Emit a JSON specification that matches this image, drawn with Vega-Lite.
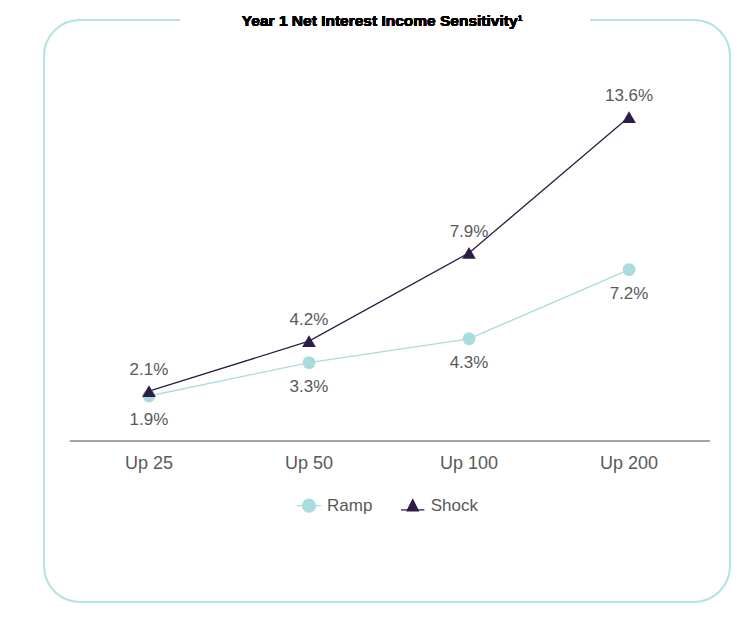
{
  "$schema": "https://vega.github.io/schema/vega-lite/v6.json",
  "width": 686,
  "height": 582,
  "autosize": {"type": "none"},
  "padding": {"left": 44, "top": 20, "right": 18, "bottom": 17},
  "background": "#ffffff",
  "config": {
    "view": {"stroke": "#b4e1e3", "strokeWidth": 2, "cornerRadius": 36},
    "font": "Liberation Sans"
  },
  "data": {
    "values": [
      {"scenario": "Up 25", "idx": 1, "series": "Ramp", "value": 1.9, "label": "1.9%"},
      {"scenario": "Up 50", "idx": 2, "series": "Ramp", "value": 3.3, "label": "3.3%"},
      {"scenario": "Up 100", "idx": 3, "series": "Ramp", "value": 4.3, "label": "4.3%"},
      {"scenario": "Up 200", "idx": 4, "series": "Ramp", "value": 7.2, "label": "7.2%"},
      {"scenario": "Up 25", "idx": 1, "series": "Shock", "value": 2.1, "label": "2.1%"},
      {"scenario": "Up 50", "idx": 2, "series": "Shock", "value": 4.2, "label": "4.2%"},
      {"scenario": "Up 100", "idx": 3, "series": "Shock", "value": 7.9, "label": "7.9%"},
      {"scenario": "Up 200", "idx": 4, "series": "Shock", "value": 13.6, "label": "13.6%"}
    ]
  },
  "encoding": {
    "x": {"field": "idx", "type": "quantitative", "scale": {"domain": [0.344, 4.631], "nice": false, "zero": false}, "axis": null},
    "y": {"field": "value", "type": "quantitative", "scale": {"domain": [-6.74, 17.67], "nice": false, "zero": false}, "axis": null}
  },
  "layer": [
    {
      "mark": {"type": "rule", "color": "#a6a6a6", "strokeWidth": 1.5},
      "encoding": {
        "x": {"datum": 0.506, "type": "quantitative"},
        "x2": {"datum": 4.506},
        "y": {"datum": 0, "type": "quantitative"}
      }
    },
    {
      "mark": {"type": "rule", "color": "#ffffff", "strokeWidth": 6},
      "encoding": {
        "x": {"datum": 1.194, "type": "quantitative"},
        "x2": {"datum": 3.756},
        "y": {"datum": 17.665, "type": "quantitative"}
      }
    },
    {
      "mark": {"type": "text", "text": "Year 1 Net Interest Income Sensitivity¹", "fontSize": 15.5, "fontWeight": "bold", "color": "#000000", "baseline": "middle", "align": "center"},
      "encoding": {
        "x": {"datum": 2.458, "type": "quantitative"},
        "y": {"datum": 17.62, "type": "quantitative"}
      }
    },
    {
      "transform": [{"filter": "datum.series === 'Ramp'"}],
      "mark": {"type": "text", "fontSize": 18, "color": "#595959", "baseline": "middle", "align": "center"},
      "encoding": {
        "text": {"field": "scenario"},
        "y": {"datum": -0.95, "type": "quantitative"}
      }
    },
    {
      "mark": {"type": "line", "strokeWidth": 1.3},
      "encoding": {
        "color": {
          "field": "series", "type": "nominal",
          "scale": {"domain": ["Ramp", "Shock"], "range": ["#a9dcdd", "#2c1c47"]},
          "legend": {
            "orient": "none", "legendX": 256.5, "legendY": 477,
            "direction": "horizontal", "title": null,
            "labelFontSize": 17, "labelColor": "#595959", "labelFont": "Liberation Sans",
            "symbolSize": 144, "labelOffset": 9.5, "columnPadding": 25.7, "padding": 0,
            "symbolStrokeWidth": 1.3,
            "encode": {
              "symbols": {
                "update": {
                  "shape": {"signal": "datum.value === 'Ramp' ? 'M-2.05,0H-1.08M1.08,0A1.08,1.08 0 1,1 -1.08,0A1.08,1.08 0 1,1 1.08,0M1.08,0H2.05' : 'M-1.95,0.6H1.95M0,-1.1L0.92,0.75L-0.92,0.75Z'"},
                  "fill": {"scale": "color", "field": "value"},
                  "stroke": {"scale": "color", "field": "value"},
                  "opacity": {"value": 1},
                  "fillOpacity": {"value": 1}
                }
              }
            }
          }
        }
      }
    },
    {
      "transform": [{"filter": "datum.series === 'Ramp'"}],
      "mark": {"type": "point", "shape": "circle", "filled": true, "size": 165, "opacity": 1, "color": "#a9dcdd"}
    },
    {
      "transform": [{"filter": "datum.series === 'Shock'"}],
      "mark": {"type": "point", "shape": "triangle-up", "filled": true, "size": 185, "opacity": 1, "color": "#2c1c47"}
    },
    {
      "transform": [{"filter": "datum.series === 'Ramp'"}],
      "mark": {"type": "text", "fontSize": 17, "color": "#595959", "baseline": "middle", "align": "center", "dy": 24},
      "encoding": {"text": {"field": "label"}}
    },
    {
      "transform": [{"filter": "datum.series === 'Shock'"}],
      "mark": {"type": "text", "fontSize": 17, "color": "#595959", "baseline": "middle", "align": "center", "dy": -21},
      "encoding": {"text": {"field": "label"}}
    }
  ]
}
